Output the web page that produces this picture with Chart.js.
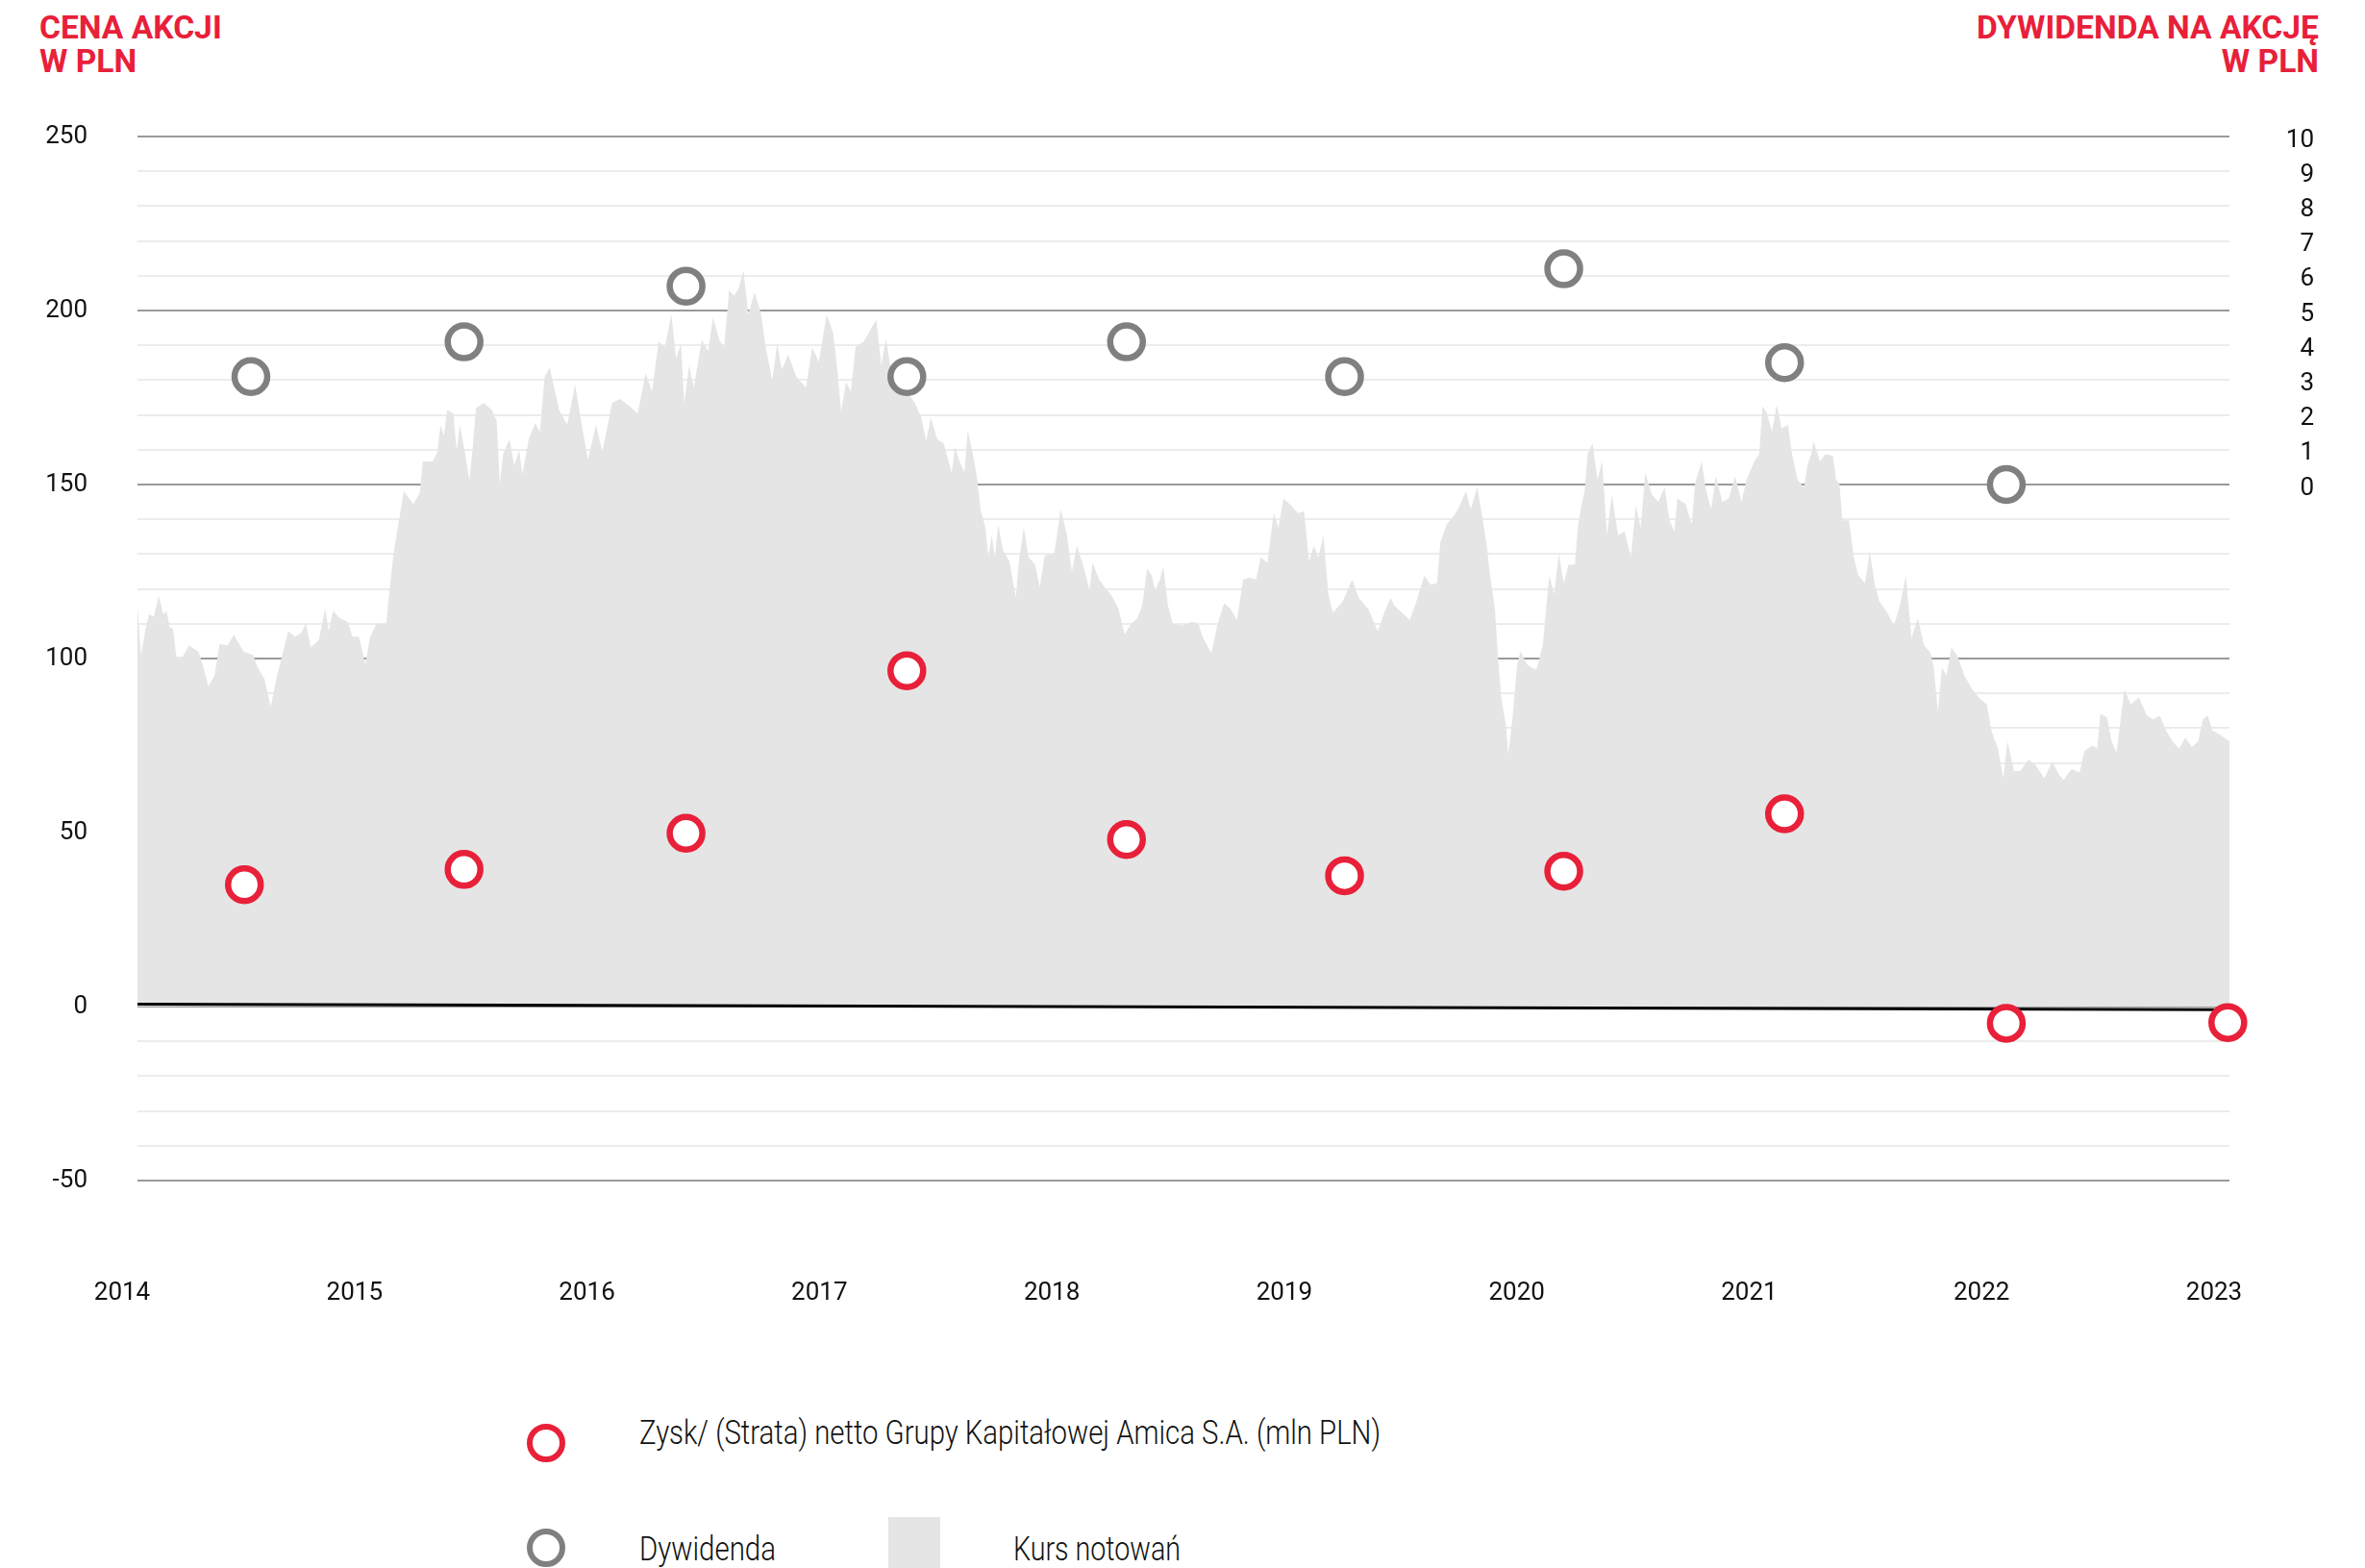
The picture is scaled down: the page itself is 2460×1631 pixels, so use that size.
<!DOCTYPE html>
<html>
<head>
<meta charset="utf-8">
<script src="https://cdn.jsdelivr.net/npm/chart.js@4.4.0/dist/chart.umd.min.js"></script>
<style>
  html, body { margin: 0; padding: 0; background: #fff; }
  body { width: 2460px; height: 1631px; position: relative; overflow: hidden; font-family: Roboto, sans-serif; }
  #wrap { position: absolute; left: 0; top: 0; width: 2460px; height: 1400px; }
  .title { position: absolute; color: #e82039; font-weight: 700; font-size: 33.6px; line-height: 35px; white-space: nowrap; }
  .ring { position: absolute; width: 28px; height: 28px; border-radius: 50%; border: 6.5px solid; background: #fff; }
  .leg { position: absolute; font-size: 35px; line-height: 35px; font-weight: 300; color: #111; white-space: nowrap; transform-origin: 0 0; }
  .box { position: absolute; background: #e5e5e5; }
</style>
</head>
<body>
<div class="title" style="left:41px; top:11px;">CENA AKCJI<br>W PLN</div>
<div class="title" style="right:48px; top:11px; text-align:right;">DYWIDENDA NA AKCJĘ<br>W PLN</div>

<div id="wrap"><canvas id="chart" width="2460" height="1400"></canvas></div>

<div class="ring" style="left:548px; top:1481px; border-color:#e82039;"></div>
<div class="leg" id="leg1" data-w="771" style="left:665px; top:1473px;">Zysk/ (Strata) netto Grupy Kapitałowej Amica S.A. (mln PLN)</div>
<div class="ring" style="left:548px; top:1590px; border-color:#808080;"></div>
<div class="leg" id="leg2" data-w="142" style="left:665px; top:1594px;">Dywidenda</div>
<div class="box" style="left:924px; top:1578px; width:54px; height:53px;"></div>
<div class="leg" id="leg3" data-w="174" style="left:1054px; top:1594px;">Kurs notowań</div>

<script>
// osie
const lata = [2014, 2015, 2016, 2017, 2018, 2019, 2020, 2021, 2022, 2023];
const cenaTicks = [-50, 0, 50, 100, 150, 200, 250];
const dywTicks = [0, 1, 2, 3, 4, 5, 6, 7, 8, 9, 10];

// zysk netto (mln PLN)
const zyskLata = [2014.46, 2015.405, 2016.36, 2017.31, 2018.255, 2019.193, 2020.136, 2021.086, 2022.04, 2022.993];
const zysk = [35.0, 39.4, 49.8, 96.5, 48.0, 37.6, 38.9, 55.4, -4.8, -4.6];

// dywidenda na akcje (PLN)
const dywLata = [2014.488, 2015.405, 2016.36, 2017.31, 2018.255, 2019.193, 2020.136, 2021.086, 2022.04];
const dywidenda = [3.1, 4.1, 5.7, 3.1, 4.1, 3.1, 6.2, 3.5, 0];

// linia zera
const liniaLata = [2014, 2023];
const linia = [0.7, -0.9];

// kurs notowan
const kursLata = [
  2014.000, 2014.015, 2014.036, 2014.050, 2014.070, 2014.091, 2014.112, 2014.125, 2014.139, 2014.153,
  2014.167, 2014.194, 2014.222, 2014.263, 2014.284, 2014.305, 2014.332, 2014.353, 2014.387, 2014.415,
  2014.456, 2014.498, 2014.518, 2014.546, 2014.573, 2014.601, 2014.629, 2014.649, 2014.677, 2014.704,
  2014.725, 2014.746, 2014.780, 2014.808, 2014.822, 2014.842, 2014.870, 2014.904, 2014.925, 2014.953,
  2014.980, 2015.001, 2015.028, 2015.070, 2015.084, 2015.104, 2015.125, 2015.146, 2015.187, 2015.214,
  2015.228, 2015.270, 2015.290, 2015.304, 2015.318, 2015.332, 2015.359, 2015.373, 2015.387, 2015.407,
  2015.428, 2015.442, 2015.456, 2015.490, 2015.525, 2015.545, 2015.559, 2015.573, 2015.600, 2015.621,
  2015.642, 2015.656, 2015.683, 2015.711, 2015.731, 2015.752, 2015.773, 2015.793,
  2015.814, 2015.849, 2015.883, 2015.911, 2015.938, 2015.973, 2016.000, 2016.042, 2016.076, 2016.118,
  2016.152, 2016.186, 2016.214, 2016.242, 2016.269, 2016.297, 2016.317, 2016.338, 2016.352, 2016.373,
  2016.393, 2016.428, 2016.455, 2016.476, 2016.504, 2016.524, 2016.545, 2016.566, 2016.586, 2016.607,
  2016.628, 2016.655, 2016.683, 2016.703, 2016.731, 2016.752, 2016.772, 2016.800, 2016.834, 2016.876,
  2016.903, 2016.931, 2016.965, 2016.993, 2017.014, 2017.027, 2017.048, 2017.069, 2017.089, 2017.124,
  2017.151, 2017.179, 2017.200, 2017.220, 2017.241, 2017.276, 2017.310, 2017.344, 2017.372, 2017.393,
  2017.413, 2017.441, 2017.468, 2017.503, 2017.517, 2017.537, 2017.558, 2017.572, 2017.600,
  2017.613, 2017.627, 2017.648, 2017.661, 2017.675, 2017.689, 2017.703, 2017.723, 2017.751, 2017.779,
  2017.792, 2017.813, 2017.834, 2017.861, 2017.882, 2017.903, 2017.944, 2017.972, 2017.999, 2018.020,
  2018.041, 2018.068, 2018.096, 2018.109, 2018.137, 2018.165, 2018.192, 2018.220, 2018.247, 2018.275,
  2018.302, 2018.323, 2018.344, 2018.364, 2018.378, 2018.399, 2018.413, 2018.433, 2018.454, 2018.495,
  2018.537, 2018.564, 2018.585, 2018.620, 2018.647, 2018.675, 2018.702, 2018.730, 2018.757, 2018.785,
  2018.812, 2018.833, 2018.861, 2018.888, 2018.909, 2018.930, 2018.964, 2018.992, 2019.019, 2019.040,
  2019.061, 2019.081, 2019.102, 2019.123, 2019.143, 2019.185, 2019.226, 2019.254, 2019.295, 2019.336,
  2019.364, 2019.391,
  2019.405, 2019.440, 2019.474, 2019.502, 2019.536, 2019.564, 2019.591, 2019.605, 2019.633, 2019.660,
  2019.681, 2019.715, 2019.736, 2019.764, 2019.784, 2019.805, 2019.819, 2019.840, 2019.853, 2019.867,
  2019.888, 2019.897, 2019.915, 2019.936, 2019.950, 2019.977, 2019.998, 2020.019, 2020.046, 2020.060,
  2020.074, 2020.095, 2020.115, 2020.136, 2020.157, 2020.184, 2020.198, 2020.212, 2020.226, 2020.239,
  2020.260, 2020.281, 2020.301, 2020.322, 2020.343, 2020.370, 2020.398, 2020.425, 2020.446, 2020.467,
  2020.487, 2020.515, 2020.543, 2020.570, 2020.591, 2020.612, 2020.625, 2020.660, 2020.687, 2020.701,
  2020.729, 2020.749, 2020.770, 2020.791, 2020.818, 2020.846, 2020.873, 2020.901, 2020.922, 2020.956,
  2020.977, 2020.991, 2021.011, 2021.032, 2021.053, 2021.073, 2021.101, 2021.115, 2021.142, 2021.170,
  2021.184, 2021.201,
  2021.211, 2021.239, 2021.260, 2021.294, 2021.308, 2021.322, 2021.335, 2021.363, 2021.384, 2021.404,
  2021.432, 2021.453, 2021.473, 2021.494, 2021.528, 2021.556, 2021.583, 2021.608, 2021.632, 2021.659,
  2021.687, 2021.714, 2021.728, 2021.746, 2021.763, 2021.783, 2021.804, 2021.832, 2021.859, 2021.894,
  2021.928, 2021.956, 2021.976, 2022.004, 2022.027, 2022.045, 2022.073, 2022.100, 2022.135, 2022.162,
  2022.204, 2022.238, 2022.266, 2022.286, 2022.321, 2022.355, 2022.376, 2022.411, 2022.431, 2022.445,
  2022.473, 2022.493, 2022.514, 2022.548, 2022.576, 2022.610, 2022.645, 2022.672, 2022.700, 2022.728,
  2022.755, 2022.783, 2022.810, 2022.838, 2022.865, 2022.886, 2022.907, 2022.927, 2022.955, 2023.000
];
const kursCena = [
  114.8, 101, 109, 112.7, 112, 118, 112.7, 113.7, 109, 108.5,
  100.5, 100.5, 103.7, 102, 97.4, 92, 95.2, 104.2, 103.7, 106.9,
  102, 101, 97.4, 94.2, 86.2, 95.2, 102.6, 107.9, 106.3, 107.4,
  110, 103.2, 105.3, 114.3, 107.9, 113.7, 111.6, 110.6, 106.3, 106.3,
  98.4, 106.3, 110, 110, 119.6, 131.2, 139.7, 148.1, 144.4, 147.6,
  156.6, 156.6, 159.3, 167.2, 164, 171.4, 170.4, 159.8, 167.2, 159.8,
  151.3, 160.3, 171.9, 173.5, 171.4, 168.3, 150.3, 158.7, 163, 155.5,
  159.8, 152.9, 163, 167.7, 165.1, 181, 183.6, 177.8,
  171.4, 167.2, 178.8, 167.2, 157.1, 167.2, 159.3, 173.5, 174.6, 172.5,
  170.4, 182, 176.7, 191, 189.4, 198.9, 186.2, 190.5, 173.5, 184.1,
  177.8, 191.5, 188.4, 197.9, 191.5, 189.4, 205.8, 204.2, 206.3, 211.6,
  198.9, 205.3, 198.9, 189.4, 179.9, 190.5, 183.1, 187.3, 181, 177.8,
  189.4, 185.2, 198.9, 193.6, 181, 170.9, 179.4, 176.7, 189.4, 191,
  194.2, 197.3, 184.1, 192, 183.1, 179.9, 176.7, 173.5, 169.3, 162.4,
  169.3, 163, 161.9, 153.4, 160.8, 156.6, 153.4, 165.6, 156.6,
  151.3, 142.9, 137.6, 129.1, 135.4, 129.1, 138.6, 131.2, 128, 117.5,
  128, 137.6, 129.1, 127, 120.6, 129.6, 130.2, 142.9, 135.4, 124.9,
  132.3, 127, 119.6, 127.5, 122.7, 120.1, 118, 114.3, 106.9, 110,
  111.6, 115.3, 125.9, 123.8, 119.6, 122.7, 126.4, 115.3, 110, 109.5,
  110.6, 110, 105.8, 101.6, 110, 115.9, 114.3, 111.1, 122.7, 123.3,
  122.7, 129.1, 127.5, 141.8, 137.6, 146, 143.9, 141.8, 142.3, 128,
  132.3, 129.1, 135.4, 118.5, 113.2, 116.4, 122.7, 117.5, 114.3, 107.9,
  113.2, 117.5,
  115.3, 113.2, 111.1, 116.4, 123.8, 121.2, 121.7, 133.3, 138.6, 140.7,
  142.9, 148.1, 142.9, 149.2, 141.3, 132.3, 123.8, 114.3, 100.5, 88.9,
  80.4, 72.5, 82.5, 98.4, 102.1, 98.4, 97.4, 96.8, 103.7, 114.3,
  123.8, 118.5, 130.2, 121.7, 127, 127, 138.6, 143.9, 148.1, 158.7,
  161.9, 151.3, 156.6, 135.4, 147.1, 135.4, 136.5, 129.1, 143.9, 137.6,
  153.4, 147.1, 145, 149.2, 139.7, 136.5, 146, 144.4, 138.6, 150.3,
  156.6, 148.1, 142.9, 152.4, 145, 146, 152.4, 145, 151.3, 156.6,
  158.7, 172.5, 170.4, 165.1, 173, 166.1, 167.2, 159.8, 151.3, 149.2,
  155.5, 158.7,
  162.4, 156.6, 158.7, 158.2, 151.3, 150.3, 139.7, 139.7, 129.1, 123.8,
  121.7, 130.7, 121.7, 116.4, 113.2, 109.5, 115.3, 123.8, 105.8, 111.6,
  103.7, 101.6, 97.4, 84.6, 97.4, 95.2, 103.2, 100.5, 95.2, 91,
  88.4, 86.8, 79.3, 74.1, 65.6, 76.2, 67.7, 67.7, 70.9, 69.8,
  65.6, 70.4, 66.7, 65.1, 68.2, 67.2, 73.5, 75.1, 74.1, 84.1,
  83.1, 76.2, 73, 91, 86.8, 88.9, 83.6, 82.5, 83.6, 79.3,
  76.2, 74.1, 77.3, 74.6, 76.2, 82.5, 83.6, 79.3, 78.3, 76.2
];

const pary = (xs, ys) => xs.map((x, i) => ({ x: x, y: ys[i] }));
const tickFont = { family: 'Roboto', size: 26 };

new Chart(document.getElementById('chart'), {
  type: 'line',
  data: {
    datasets: [
      {
        label: 'Kurs notowań',
        data: pary(kursLata, kursCena),
        yAxisID: 'y',
        fill: 'origin',
        backgroundColor: '#e5e5e5',
        borderColor: 'rgba(0,0,0,0)',
        borderWidth: 0,
        pointRadius: 0,
        tension: 0,
        order: 3
      },
      {
        label: 'zero',
        data: pary(liniaLata, linia),
        yAxisID: 'y',
        fill: false,
        borderColor: '#000',
        borderWidth: 3,
        pointRadius: 0,
        order: 2
      },
      {
        type: 'scatter',
        label: 'Dywidenda',
        data: pary(dywLata, dywidenda),
        yAxisID: 'y2',
        showLine: false,
        pointRadius: 17,
        borderWidth: 6.5,
        borderColor: '#808080',
        backgroundColor: '#fff',
        clip: false,
        order: 1
      },
      {
        type: 'scatter',
        label: 'Zysk/ (Strata) netto',
        data: pary(zyskLata, zysk),
        yAxisID: 'y',
        showLine: false,
        pointRadius: 17,
        borderWidth: 6.5,
        borderColor: '#e82039',
        backgroundColor: '#fff',
        clip: false,
        order: 0
      }
    ]
  },
  options: {
    responsive: false,
    animation: false,
    devicePixelRatio: 1,
    layout: { padding: { top: 142, right: 53, bottom: 32, left: 0 } },
    plugins: { legend: { display: false }, tooltip: { enabled: false } },
    scales: {
      x: {
        type: 'linear',
        min: 2014,
        max: 2023,
        grid: { display: false },
        border: { display: false },
        afterBuildTicks: s => { s.ticks = lata.map(v => ({ value: v })); },
        afterFit: s => { s.height = 140; },
        ticks: {
          autoSkip: false,
          maxRotation: 0,
          padding: 94,
          labelOffset: -16,
          color: '#111',
          font: tickFont,
          callback: v => String(v)
        }
      },
      y: {
        position: 'left',
        min: -50,
        max: 250,
        border: { display: false },
        afterBuildTicks: s => {
          const t = [];
          for (let v = -50; v <= 250; v += 10) t.push({ value: v });
          s.ticks = t;
        },
        afterFit: s => { s.width = 143; },
        grid: {
          drawTicks: false,
          lineWidth: 2,
          color: c => (c.tick && c.tick.value % 50 === 0) ? 'rgba(0,0,0,0)' : '#ececec'
        },
        ticks: {
          padding: 52,
          color: '#111',
          font: tickFont,
          callback: v => cenaTicks.includes(v) ? String(v) : ''
        }
      },
      yGrid: {
        position: 'left',
        min: -50,
        max: 250,
        z: 1,
        border: { display: false },
        afterBuildTicks: s => { s.ticks = cenaTicks.map(v => ({ value: v })); },
        afterFit: s => { s.width = 0; },
        grid: { drawTicks: false, lineWidth: 2, color: '#9a9a9a' },
        ticks: { display: false }
      },
      y2: {
        position: 'right',
        min: -20,
        max: 10,
        border: { display: false },
        grid: { display: false },
        afterBuildTicks: s => { s.ticks = dywTicks.map(v => ({ value: v })); },
        afterFit: s => { s.width = 88; },
        ticks: { crossAlign: 'far', labelOffset: 4, color: '#111', font: tickFont }
      }
    }
  }
});

// legend text is condensed in the original
document.querySelectorAll('.leg').forEach(el => {
  const w = el.getBoundingClientRect().width;
  el.style.transform = 'scaleX(' + (Number(el.dataset.w) / w) + ')';
});
</script>
</body>
</html>
